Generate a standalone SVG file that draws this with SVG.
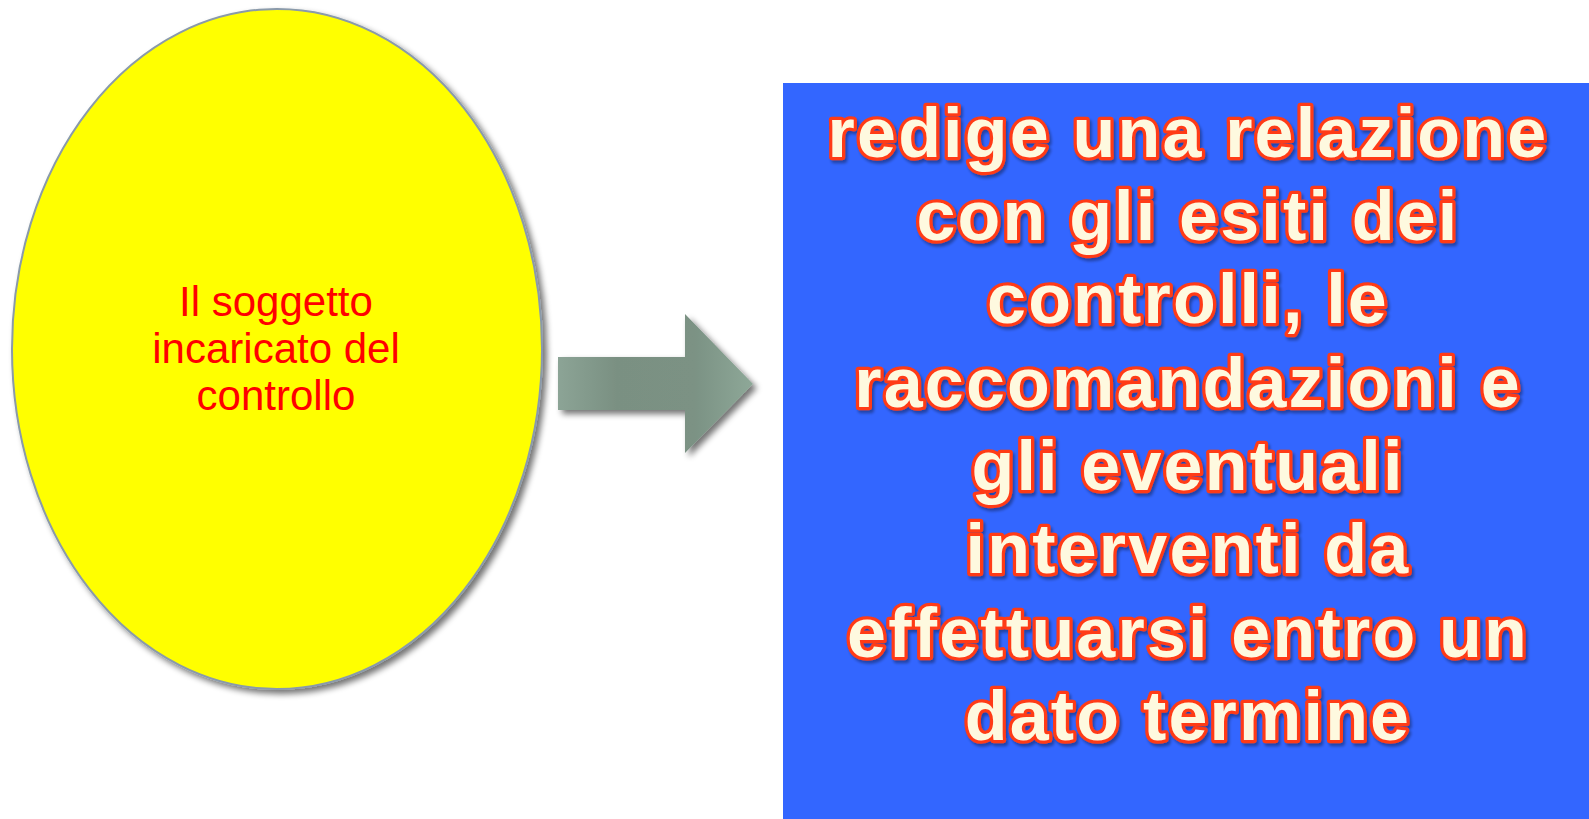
<svg xmlns="http://www.w3.org/2000/svg" width="1589" height="819" viewBox="0 0 1589 819">
<defs>
<style>
.small{font-family:"Liberation Sans",Arial,sans-serif;font-size:42px;fill:#FF0000;text-anchor:middle}
.big{font-family:"Liberation Sans",Arial,sans-serif;font-weight:bold;font-size:70px;letter-spacing:2.2px;fill:#FEF9DF;stroke:#FF3A14;stroke-width:6.5;stroke-linejoin:round;paint-order:stroke fill;text-anchor:middle}
</style>
<filter id="sh" x="-10%" y="-10%" width="130%" height="130%">
<feGaussianBlur in="SourceAlpha" stdDeviation="3"/>
<feOffset dx="4" dy="4" result="b"/>
<feComponentTransfer><feFuncA type="linear" slope="0.55"/></feComponentTransfer>
<feMerge><feMergeNode/><feMergeNode in="SourceGraphic"/></feMerge>
</filter>
<filter id="tsh" x="-5%" y="-5%" width="110%" height="120%">
<feGaussianBlur in="SourceAlpha" stdDeviation="1.5"/>
<feOffset dx="2" dy="3"/>
<feComponentTransfer><feFuncA type="linear" slope="0.35"/></feComponentTransfer>
<feMerge><feMergeNode/><feMergeNode in="SourceGraphic"/></feMerge>
</filter>
<linearGradient id="ag" x1="0" y1="0" x2="1" y2="0">
<stop offset="0" stop-color="#8CA496"/>
<stop offset="0.3" stop-color="#7A9082"/>
<stop offset="0.7" stop-color="#7B9284"/>
<stop offset="1" stop-color="#8EA898"/>
</linearGradient>
</defs>
<rect width="1589" height="819" fill="#FFFFFF"/>
<g id="node-soggetto">
<ellipse cx="277" cy="349" rx="265" ry="340" fill="#FFFF00" stroke="#8A9AAA" stroke-width="2" filter="url(#sh)"/>
<text class="small" x="276" y="316">Il soggetto</text>
<text class="small" x="276" y="363">incaricato del</text>
<text class="small" x="276" y="410">controllo</text>
</g>
<g id="connectors">
<polygon points="558,357 685,357 685,314 753,384 685,453 685,410 558,410" fill="url(#ag)" filter="url(#sh)"/>
</g>
<g id="node-relazione">
<rect x="783" y="83" width="806" height="736" fill="#3366FF"/>
<g filter="url(#tsh)">
<text class="big" x="1188" y="157">redige una relazione</text>
<text class="big" x="1188" y="240">con gli esiti dei</text>
<text class="big" x="1188" y="323">controlli, le</text>
<text class="big" x="1188" y="407">raccomandazioni e</text>
<text class="big" x="1188" y="490">gli eventuali</text>
<text class="big" x="1188" y="573">interventi da</text>
<text class="big" x="1188" y="657">effettuarsi entro un</text>
<text class="big" x="1188" y="740">dato termine</text>
</g>
</g>
</svg>
